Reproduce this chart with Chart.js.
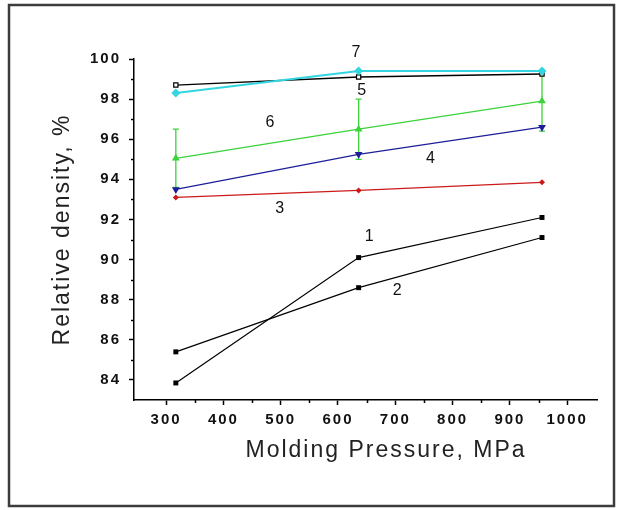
<!DOCTYPE html>
<html><head><meta charset="utf-8">
<script src="https://cdn.jsdelivr.net/npm/chart.js@4"></script>
<style>html,body{margin:0;padding:0;background:#fff}</style>
</head><body>
<canvas id="c" width="621" height="510"></canvas>
<script>
// ---- data ----
const pressure = [317, 636, 956];
const curve1 = [83.85, 90.1, 92.1];
const curve2 = [85.4, 88.6, 91.1];
const curve3 = [93.1, 93.45, 93.85];
const curve4 = [93.5, 95.25, 96.6];
const curve5 = [98.7, 99.1, 99.25];
const curve6 = [95.05, 96.5, 97.9];
const curve6Err = [1.45, 1.5, 1.5];
const curve7 = [98.3, 99.4, 99.4];
const xTicks = [300, 400, 500, 600, 700, 800, 900, 1000];
const xMinorTicks = [350, 450, 550, 650, 750, 850, 950];
const yTicks = [84, 86, 88, 90, 92, 94, 96, 98, 100];
const yMinorTicks = [85, 87, 89, 91, 93, 95, 97, 99];
const curveNames = ['1', '2', '3', '4', '5', '6', '7'];
const curveLabelX = [656, 705, 500, 763, 643, 483, 633];
const curveLabelY = [91.15, 88.45, 92.54, 95.03, 98.42, 96.83, 100.3];
const xTitle = 'Molding Pressure, MPa';
const yTitle = 'Relative density, %';

const pts = arr => pressure.map((p, i) => ({x: p, y: arr[i]}));
const FONT = 'Liberation Sans';

const decor = {
  id: 'decor',
  beforeDraw(chart) {
    const ctx = chart.ctx;
    ctx.letterSpacing = '2px';
    ctx.save();
    ctx.strokeStyle = '#3c3c3c';
    ctx.lineWidth = 2.5;
    ctx.strokeRect(9, 5, 605, 501);
    ctx.restore();
  },
  beforeDatasetsDraw(chart) {
    const {ctx, scales: {x, y}} = chart;
    ctx.save();
    ctx.strokeStyle = '#3cd23c';
    ctx.lineWidth = 1.3;
    pressure.forEach((p, i) => {
      const px = x.getPixelForValue(p);
      const top = y.getPixelForValue(curve6[i] + curve6Err[i]);
      const bot = y.getPixelForValue(curve6[i] - curve6Err[i]);
      ctx.beginPath();
      ctx.moveTo(px, top); ctx.lineTo(px, bot);
      ctx.moveTo(px - 3, top); ctx.lineTo(px + 3, top);
      ctx.moveTo(px - 3, bot); ctx.lineTo(px + 3, bot);
      ctx.stroke();
    });
    ctx.restore();
  },
  afterDraw(chart) {
    const {ctx, scales: {x, y}} = chart;
    ctx.save();
    ctx.strokeStyle = '#000';
    ctx.lineWidth = 1.5;
    ctx.beginPath();
    xMinorTicks.forEach(v => {
      const px = Math.round(x.getPixelForValue(v)) + 0.5;
      ctx.moveTo(px, y.bottom); ctx.lineTo(px, y.bottom + 3);
    });
    yMinorTicks.forEach(v => {
      const py = Math.round(y.getPixelForValue(v)) + 0.5;
      ctx.moveTo(x.left, py); ctx.lineTo(x.left - 3, py);
    });
    ctx.stroke();
    ctx.fillStyle = '#111';
    ctx.textAlign = 'center';
    ctx.textBaseline = 'middle';
    ctx.font = '16px "' + FONT + '"';
    curveNames.forEach((t, i) => {
      ctx.fillText(t, x.getPixelForValue(curveLabelX[i]), y.getPixelForValue(curveLabelY[i]));
    });
    ctx.font = '23px "' + FONT + '"';
    ctx.fillStyle = '#222';
    ctx.fillText(xTitle, 386, 451);
    ctx.restore();
  }
};

new Chart(document.getElementById('c'), {
  type: 'line',
  data: {
    datasets: [
      {label: '1', data: pts(curve1), borderColor: '#000', backgroundColor: '#000', borderWidth: 1.2, pointStyle: 'rect', pointRadius: 3.5, pointBorderWidth: 0},
      {label: '2', data: pts(curve2), borderColor: '#000', backgroundColor: '#000', borderWidth: 1.2, pointStyle: 'rect', pointRadius: 3.5, pointBorderWidth: 0},
      {label: '3', data: pts(curve3), borderColor: '#cc1a1a', backgroundColor: '#cc1a1a', borderWidth: 1.2, pointStyle: 'rectRot', pointRadius: 3, pointBorderWidth: 0},
      {label: '4', data: pts(curve4), borderColor: '#1e1e9a', backgroundColor: '#1e1e9a', borderWidth: 1.3, pointStyle: 'triangle', rotation: 180, pointRadius: 4.5, pointBorderWidth: 0},
      {label: '6', data: pts(curve6), borderColor: '#3cd23c', backgroundColor: '#3cd23c', borderWidth: 1.3, pointStyle: 'triangle', pointRadius: 4.5, pointBorderWidth: 0},
      {label: '7', data: pts(curve7), borderColor: '#33d6e0', backgroundColor: '#33d6e0', borderWidth: 2, pointStyle: 'rectRot', pointRadius: 4.5, pointBorderWidth: 0},
      {label: '5', data: pts(curve5), borderColor: '#000', backgroundColor: '#fff', pointBorderColor: '#000', borderWidth: 1.4, pointStyle: 'rect', pointRadius: 3, pointBorderWidth: 1.2}
    ]
  },
  options: {
    responsive: false,
    animation: false,
    devicePixelRatio: 1,
    layout: {padding: {left: 0, top: 59, right: 24, bottom: 0}},
    plugins: {legend: {display: false}, tooltip: {enabled: false}},
    scales: {
      x: {
        type: 'linear', position: 'bottom', min: 244, max: 1052,
        afterFit: s => { s.height = 110; },
        afterBuildTicks: s => { s.ticks = xTicks.map(v => ({value: v})); },
        grid: {drawOnChartArea: false, drawTicks: true, tickLength: 5, tickColor: '#000', tickWidth: 1.5},
        border: {color: '#000', width: 1.5},
        ticks: {color: '#111', font: {family: FONT, size: 15, weight: 'bold'}, padding: 6, maxRotation: 0, autoSkip: false, callback: v => String(v)}
      },
      y: {
        type: 'linear', position: 'left', min: 83, max: 100,
        afterFit: s => { s.width = 134; },
        afterBuildTicks: s => { s.ticks = yTicks.map(v => ({value: v})); },
        grid: {drawOnChartArea: false, drawTicks: true, tickLength: 5, tickColor: '#000', tickWidth: 1.5},
        border: {color: '#000', width: 1.5},
        ticks: {color: '#111', font: {family: FONT, size: 15, weight: 'bold'}, padding: 8, autoSkip: false, callback: v => String(v)},
        title: {display: true, text: yTitle, color: '#222', font: {family: FONT, size: 23}, padding: {top: 49, bottom: 0}}
      }
    }
  },
  plugins: [decor]
});
</script>
</body></html>
